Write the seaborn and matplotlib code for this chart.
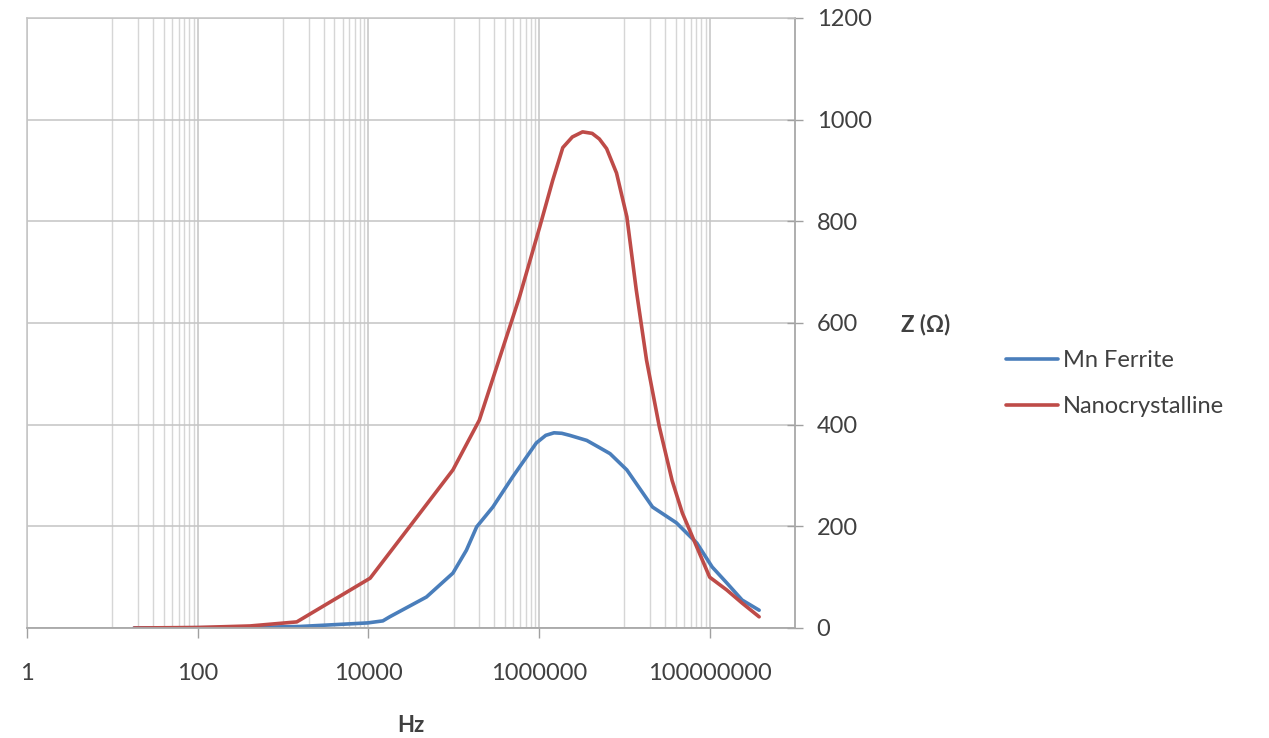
import numpy as np
import pandas as pd
import matplotlib
matplotlib.use("Agg")
import matplotlib.pyplot as plt
from matplotlib.ticker import FixedLocator, NullFormatter
import seaborn as sns

# ---- data ----
mn_freq = [18, 410, 1580, 9800, 14800, 17800, 48000, 98000, 141000, 186000,
           288000, 490000, 930000, 1200000, 1500000, 1850000, 2290000, 3630000,
           5100000, 6800000, 10700000, 21400000, 40700000, 70800000, 107000000,
           158000000, 240000000, 380000000]
mn_z = [0, 1, 3, 10, 14, 22, 61, 108, 153, 199,
        238, 297, 364, 379, 384, 383, 379, 369,
        355, 343, 311, 238, 207, 167, 120,
        89, 55, 35]

nano_freq = [18, 98, 410, 1450, 10500, 33000, 98000, 200000, 590000, 1020000,
             1450000, 1900000, 2460000, 3240000, 4200000, 5100000, 6200000,
             8100000, 10700000, 13800000, 18200000, 25700000, 36300000,
             47900000, 70800000, 100000000, 158000000, 240000000, 380000000]
nano_z = [0, 1, 4, 12, 98, 207, 311, 409, 651, 789,
          881, 945, 966, 976, 973, 962, 943,
          895, 809, 665, 527, 396, 290,
          226, 159, 100, 75, 49, 22]

series_names = ["Mn Ferrite", "Nanocrystalline"]
x_tick_values = [1, 100, 10000, 1000000, 100000000]
x_tick_labels = ["1", "100", "10000", "1000000", "100000000"]
y_tick_values = [0, 200, 400, 600, 800, 1000, 1200]

df = pd.concat([
    pd.DataFrame({"Hz": mn_freq, "Z": mn_z, "series": series_names[0]}),
    pd.DataFrame({"Hz": nano_freq, "Z": nano_z, "series": series_names[1]}),
], ignore_index=True)

# ---- style ----
sns.set_theme(style="white")
plt.rcParams["font.family"] = ["Lato", "DejaVu Sans"]

palette = {"Mn Ferrite": "#4A7EBB", "Nanocrystalline": "#BE4B48"}
grid_c = "#c4c4c4"
minor_c = "#d6d6d6"
text_c = "#404040"

fig = plt.figure(figsize=(12.69, 7.38), dpi=100)
ax = fig.add_axes([27 / 1269, 1 - 628 / 738, (795 - 27) / 1269, (628 - 18) / 738])

sns.lineplot(data=df, x="Hz", y="Z", hue="series", palette=palette,
             sort=False, estimator=None, linewidth=2.6, ax=ax, legend=False)

ax.set_xscale("log")
ax.set_xlim(1, 1e9)
ax.set_ylim(0, 1200)

# major ticks / grid
ax.xaxis.set_major_locator(FixedLocator(x_tick_values))
ax.set_xticklabels(x_tick_labels)
minor = [m * 10 * b for b in [1, 100, 10000, 1000000] for m in range(1, 10)]
ax.xaxis.set_minor_locator(FixedLocator(minor))
ax.xaxis.set_minor_formatter(NullFormatter())
ax.set_yticks(y_tick_values)

ax.grid(which="major", axis="both", color=grid_c, linewidth=1.1)
ax.grid(which="minor", axis="x", color=minor_c, linewidth=1.0)
ax.set_axisbelow(True)

ax.yaxis.tick_right()
ax.tick_params(axis="y", which="major", direction="inout", length=11, width=1,
               color="#a0a0a0", labelsize=17, labelcolor=text_c, pad=10)
ax.tick_params(axis="x", which="major", direction="out", length=7, width=1,
               color="#a0a0a0", labelsize=17, labelcolor=text_c, pad=18,
               bottom=True)
ax.tick_params(axis="x", which="minor", length=0)

for side in ["left", "top"]:
    ax.spines[side].set_color(grid_c)
    ax.spines[side].set_linewidth(1.1)
for side in ["right", "bottom"]:
    ax.spines[side].set_color("#a8a8a8")
    ax.spines[side].set_linewidth(1.3)

ax.set_xlabel("")
ax.set_ylabel("")

fig.text(411 / 1269, 1 - 725 / 738, "Hz", fontsize=16, fontweight="bold",
         color=text_c, ha="center", va="center")
fig.text(926 / 1269, 1 - 325 / 738, "Z (Ω)", fontsize=16, fontweight="bold",
         color=text_c, ha="center", va="center")

# legend
handles = [plt.Line2D([], [], color=palette[n], linewidth=2.6) for n in series_names]
fig.legend(handles, series_names, loc="upper left",
           bbox_to_anchor=(985 / 1269, 1 - 329 / 738), frameon=False,
           fontsize=17, handlelength=2.2, handletextpad=0.2,
           labelspacing=1.05, labelcolor=text_c)

fig.savefig("out.png", dpi=100, facecolor="white")
